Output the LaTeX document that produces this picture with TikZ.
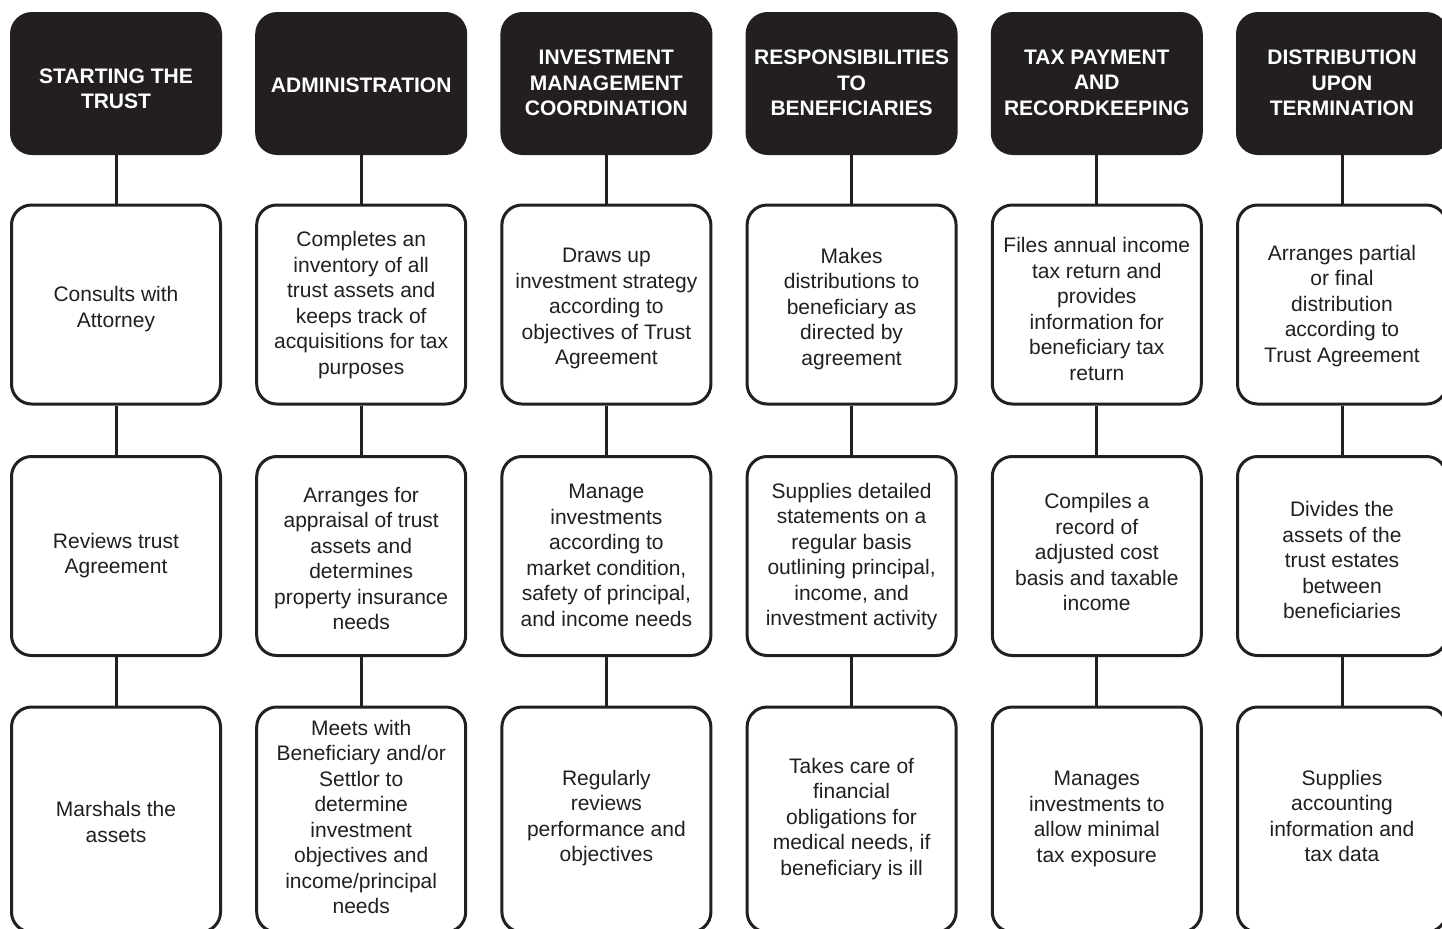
\documentclass[tikz,border=0pt]{standalone}
\usepackage{fontspec}
\setmainfont{Liberation Sans}
\definecolor{ink}{HTML}{231F20}
% #1 box style, #2 name, #3 x, #4 y, #5 text shift down (px), #6 text
\newcommand\flowcell[6]{%
  \node[#1] (#2) at (#3,#4) {};
  \node[txt, #1txt, yshift=-#5*0.5pt] (#2-t) at (#2.center) {#6};
}
\begin{document}
\begin{tikzpicture}[x=0.5pt,y=-0.5pt,
  txt/.style={font=\fontsize{10.5}{12.75}\selectfont, align=center, text=ink, inner sep=0pt,
    execute at begin node={\strut}, execute at end node={\strut}},
  head/.style={fill=ink, rounded corners=11pt, minimum width=106pt, minimum height=71.5pt, inner sep=0pt},
  headtxt/.style={text=white, font=\bfseries\fontsize{10.5}{12.75}\selectfont},
  card/.style={draw=ink, line width=1.5pt, fill=white, rounded corners=10pt, minimum width=104.5pt, minimum height=99.5pt, inner sep=0pt},
  cardtxt/.style={},
  tallcard/.style={card, minimum height=112.5pt},
  tallcardtxt/.style={},
  link/.style={draw=ink, line width=1.5pt}]
\useasboundingbox (0,0) rectangle (1442,928);
\clip (0,0) rectangle (1442,928);
\fill[white] (0,0) rectangle (1442,928);

% column 1
\flowcell{head}{h1}{116}{83.5}{9}{STARTING THE\\TRUST}
\flowcell{card}{a1}{116}{304.5}{6}{Consults with\\Attorney}
\flowcell{card}{b1}{116}{556}{1}{Reviews trust\\Agreement}
\flowcell{tallcard}{c1}{116}{819.5}{6}{Marshals the\\assets}

% column 2
\flowcell{head}{h2}{361.2}{83.5}{4}{ADMINISTRATION}
\flowcell{card}{a2}{361.2}{304.5}{2}{Completes an\\inventory of all\\trust assets and\\keeps track of\\acquisitions for tax\\purposes}
\flowcell{card}{b2}{361.2}{556}{6}{Arranges for\\appraisal of trust\\assets and\\determines\\property insurance\\needs}
\flowcell{tallcard}{c2}{361.2}{819.5}{1}{Meets with\\Beneficiary and/or\\Settlor to\\determine\\investment\\objectives and\\income/principal\\needs}

% column 3
\flowcell{head}{h3}{606.4}{83.5}{3}{INVESTMENT\\MANAGEMENT\\COORDINATION}
\flowcell{card}{a3}{606.4}{304.5}{6}{Draws up\\investment strategy\\according to\\objectives of Trust\\Agreement}
\flowcell{card}{b3}{606.4}{556}{3}{Manage\\investments\\according to\\market condition,\\safety of principal,\\and income needs}
\flowcell{tallcard}{c3}{606.4}{819.5}{0}{Regularly\\reviews\\performance and\\objectives}

% column 4
\flowcell{head}{h4}{851.6}{83.5}{3}{RESPONSIBILITIES\\TO\\BENEFICIARIES}
\flowcell{card}{a4}{851.6}{304.5}{6}{Makes\\distributions to\\beneficiary as\\directed by\\agreement}
\flowcell{card}{b4}{851.6}{556}{2}{Supplies detailed\\statements on a\\regular basis\\outlining principal,\\income, and\\investment activity}
\flowcell{tallcard}{c4}{851.6}{819.5}{1}{Takes care of\\financial\\obligations for\\medical needs, if\\beneficiary is ill}

% column 5
\flowcell{head}{h5}{1096.8}{83.5}{3}{TAX PAYMENT\\AND\\RECORDKEEPING}
\flowcell{card}{a5}{1096.8}{304.5}{8}{Files annual income\\tax return and\\provides\\information for\\beneficiary tax\\return}
\flowcell{card}{b5}{1096.8}{556}{0}{Compiles a\\record of\\adjusted cost\\basis and taxable\\income}
\flowcell{tallcard}{c5}{1096.8}{819.5}{1}{Manages\\investments to\\allow minimal\\tax exposure}

% column 6
\flowcell{head}{h6}{1342}{83.5}{3}{DISTRIBUTION\\UPON\\TERMINATION}
\flowcell{card}{a6}{1342}{304.5}{3}{Arranges partial\\or final\\distribution\\according to\\Trust Agreement}
\flowcell{card}{b6}{1342}{556}{8}{Divides the\\assets of the\\trust estates\\between\\beneficiaries}
\flowcell{tallcard}{c6}{1342}{819.5}{0}{Supplies\\accounting\\information and\\tax data}

\foreach \i in {1,...,6}{
  \draw[link] (h\i.south) -- (a\i.north);
  \draw[link] (a\i.south) -- (b\i.north);
  \draw[link] (b\i.south) -- (c\i.north);
}
\end{tikzpicture}
\end{document}
